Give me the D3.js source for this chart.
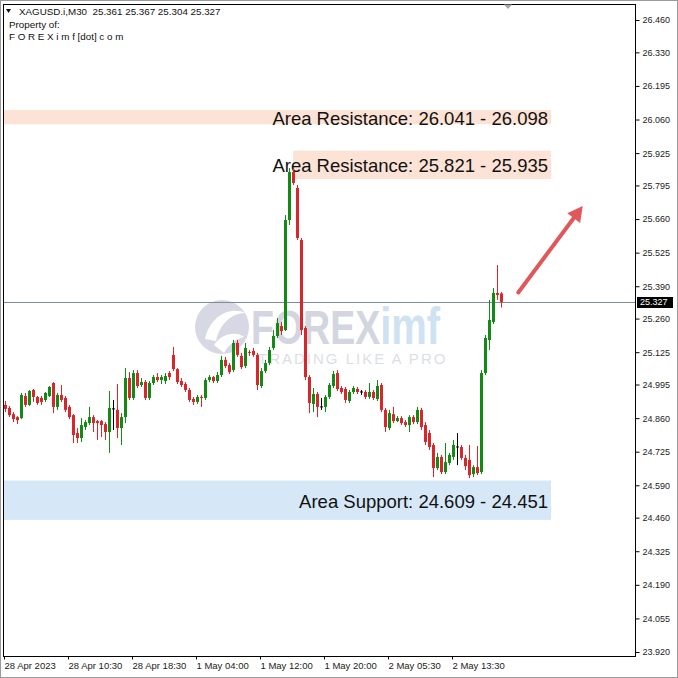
<!DOCTYPE html>
<html><head><meta charset="utf-8">
<script src="https://cdn.jsdelivr.net/npm/d3@7"></script>
<style>html,body{margin:0;padding:0;background:#fff;} svg{display:block;font-family:"Liberation Sans",Arial,sans-serif;}</style>
</head><body><svg id="c" width="678" height="678"></svg>
<script>
// ---------------- DATA ----------------
const symbol = "XAGUSD.i,M30";
const opens = [24.913,24.901,24.876,24.864,24.860,24.949,24.913,24.973,24.945,24.941,
24.933,24.949,25.001,24.905,24.953,24.941,24.905,24.872,24.800,24.780,
24.824,24.840,24.864,24.848,24.848,24.836,24.804,24.897,24.893,24.820,
24.864,25.021,24.941,25.041,24.993,25.005,24.941,25.001,25.025,25.013,
25.009,25.041,25.114,25.057,25.009,24.997,24.973,24.937,24.925,24.945,
24.941,25.013,25.025,25.009,25.033,25.094,25.073,25.053,25.162,25.110,
25.069,25.126,25.130,25.114,24.989,25.049,25.081,25.142,25.190,25.230,
25.214,25.656,25.849,25.785,25.576,25.222,25.025,24.917,24.957,24.905,
24.905,24.945,24.989,25.041,24.981,24.977,24.929,24.965,24.977,24.965,
24.965,24.945,24.965,24.937,24.993,24.893,24.820,24.876,24.848,24.860,
24.844,24.832,24.864,24.844,24.893,24.832,24.800,24.752,24.659,24.704,
24.643,24.680,24.704,24.744,24.744,24.700,24.692,24.635,24.663,24.643,
25.041,25.174,25.246,25.363,25.361];
const highs = [24.929,24.909,24.884,24.868,24.961,24.961,24.973,24.977,24.949,24.949,
24.965,24.989,25.005,24.961,24.993,24.949,24.913,24.876,24.820,24.860,
24.852,24.905,24.872,24.852,24.852,24.844,24.969,24.933,24.997,24.880,
25.061,25.045,25.053,25.053,25.021,25.013,25.009,25.033,25.041,25.033,
25.041,25.049,25.146,25.061,25.021,25.005,24.981,24.945,24.953,24.953,
25.021,25.033,25.029,25.045,25.110,25.106,25.081,25.174,25.174,25.122,
25.162,25.134,25.142,25.122,25.061,25.094,25.146,25.214,25.262,25.246,
25.676,25.865,25.865,25.797,25.584,25.230,25.033,24.981,24.965,24.941,
24.953,25.001,25.049,25.053,24.989,24.985,24.973,24.989,24.985,24.973,
24.973,25.001,24.973,25.013,25.001,24.901,24.893,24.905,24.868,24.868,
24.852,24.872,24.872,24.905,24.901,24.844,24.812,24.760,24.720,24.712,
24.760,24.720,24.772,24.800,24.752,24.712,24.752,24.671,24.748,25.053,
25.194,25.335,25.383,25.475,25.367];
const lows = [24.884,24.864,24.844,24.836,24.856,24.905,24.909,24.925,24.913,24.913,
24.925,24.945,24.880,24.893,24.925,24.884,24.856,24.760,24.760,24.764,
24.812,24.832,24.804,24.772,24.784,24.772,24.720,24.812,24.780,24.752,
24.840,24.933,24.933,24.981,24.985,24.933,24.933,24.993,25.005,24.997,
24.997,25.013,25.049,24.997,24.985,24.965,24.925,24.913,24.917,24.905,
24.933,25.005,25.001,25.001,25.025,25.061,25.037,25.045,25.106,25.057,
25.061,25.110,25.106,24.973,24.981,25.041,25.073,25.134,25.182,25.194,
25.210,25.636,25.797,25.576,25.194,25.013,24.880,24.884,24.864,24.893,
24.884,24.937,24.981,24.969,24.957,24.921,24.921,24.957,24.957,24.953,
24.937,24.937,24.933,24.929,24.884,24.804,24.812,24.840,24.844,24.832,
24.824,24.804,24.836,24.836,24.812,24.752,24.732,24.623,24.651,24.635,
24.635,24.671,24.692,24.671,24.692,24.651,24.619,24.623,24.631,24.635,
25.033,25.134,25.238,25.335,25.304];
const closes = [24.897,24.872,24.856,24.852,24.953,24.913,24.969,24.945,24.921,24.925,
24.961,24.985,24.905,24.953,24.933,24.893,24.864,24.792,24.780,24.832,
24.844,24.864,24.840,24.840,24.832,24.804,24.901,24.897,24.820,24.864,
25.021,24.941,25.041,24.989,25.005,24.941,25.001,25.025,25.013,25.025,
25.029,25.025,25.057,25.005,24.993,24.973,24.933,24.925,24.945,24.941,
25.013,25.025,25.009,25.033,25.094,25.069,25.045,25.162,25.114,25.065,
25.142,25.122,25.114,24.993,25.049,25.081,25.134,25.190,25.242,25.210,
25.656,25.849,25.805,25.584,25.214,25.025,24.921,24.957,24.905,24.905,
24.945,24.993,25.037,24.977,24.965,24.933,24.965,24.981,24.965,24.965,
24.945,24.965,24.941,24.989,24.893,24.824,24.880,24.848,24.860,24.840,
24.832,24.864,24.844,24.893,24.824,24.764,24.744,24.659,24.704,24.643,
24.683,24.712,24.752,24.744,24.700,24.667,24.631,24.663,24.639,25.041,
25.182,25.254,25.363,25.355,25.327];
const timeLabels = ["28 Apr 2023","28 Apr 10:30","28 Apr 18:30","1 May 04:00","1 May 12:00","1 May 20:00","2 May 05:30","2 May 13:30"];
const timeLabelBars = [0,16,32,48,64,80,96,112];
const priceTicks = [26.460,26.330,26.195,26.060,25.925,25.795,25.660,25.525,25.390,25.260,25.125,24.995,24.860,24.725,24.590,24.460,24.325,24.190,24.055,23.920];
const zoneLabels = ["Area Resistance: 26.041 - 26.098","Area Resistance: 25.821 - 25.935","Area Support: 24.609 - 24.451"];
const zoneLow  = [26.041, 25.821, 24.451];
const zoneHigh = [26.098, 25.935, 24.609];
const zoneKind = ["res","res","sup"];
const arrowFrom = {bar:128.2, price:25.365};
const arrowTo   = {bar:144.3, price:25.712};

// ---------------- LAYOUT ----------------
const svg = d3.select("#c");
const L = 3.5, R = 635.5, T = 4.5, B = 656.5;
const x = d3.scaleLinear().domain([0,124]).range([5.5,501.5]);
const y = d3.scaleLinear().domain([23.920,26.460]).range([652,20]);
const GREEN = "#138a13", RED = "#d8262a";

// outer frame
svg.append("rect").attr("x",0.5).attr("y",0.5).attr("width",677).attr("height",677)
  .attr("fill","#fff").attr("stroke","#9a9a9a");

// zones
const zoneStart = [ -0.4, 71.9, -0.4 ];
const zoneEnd = 136.4;
const zg = svg.append("g");
zoneLabels.forEach((lab,k)=>{
  const y1 = y(zoneHigh[k]), y2 = y(zoneLow[k]);
  zg.append("rect").attr("x",x(zoneStart[k])).attr("y",y1)
    .attr("width",x(zoneEnd)-x(zoneStart[k])).attr("height",y2-y1)
    .attr("fill", zoneKind[k]==="res" ? "#fde3d6" : "#d6e8f8");
});

// watermark
const wm = svg.append("g");
wm.append("circle").attr("cx",222).attr("cy",327).attr("r",27).attr("fill","#d6d8e3");
wm.append("path").attr("d","M205,339 C210,316 230,306 246,313 C232,313 220,323 216,341 Z").attr("fill","#fff");
wm.append("path").attr("d","M214,345 C222,333 236,331 244,337 C236,339 228,345 224,353 Z").attr("fill","#fff");
const wt = wm.append("text").attr("transform","translate(251,344) scale(1,1.3)").attr("font-size",37.5).attr("font-weight","bold")
  .attr("font-family","'Liberation Sans',Arial,sans-serif");
wt.append("tspan").attr("fill","#d3d5e0").text("FOREX");
wt.append("tspan").attr("fill","#cfe2f1").attr("font-size",40).text("imf");
wm.append("text").attr("x",258).attr("y",364).attr("font-size",15).attr("letter-spacing",2)
  .attr("fill","#dcdee6").text("TRADING LIKE A PRO");

// zone labels
zoneLabels.forEach((lab,k)=>{
  const yc = (y(zoneHigh[k]) + y(zoneLow[k]))/2 + 1;
  zg.append("text").attr("x",548).attr("y",yc).attr("dy","0.36em")
    .attr("text-anchor","end").attr("font-size",18.5).attr("fill","#111").text(lab);
});

// current price line
const last = closes[closes.length-1];
svg.append("line").attr("x1",L).attr("x2",R).attr("y1",Math.round(y(last))+0.5).attr("y2",Math.round(y(last))+0.5)
  .attr("stroke","#7d8b99").attr("stroke-width",1);

// candles
const data = opens.map((o,i)=>({i,o,h:highs[i],l:lows[i],c:closes[i]}));
const cg = svg.append("g");
data.forEach(d=>{
  const col = d.c>d.o ? GREEN : (d.c<d.o ? RED : "#000");
  const cx = x(d.i);
  cg.append("line").attr("x1",cx).attr("x2",cx).attr("y1",y(d.h)).attr("y2",y(d.l)).attr("stroke",col).attr("stroke-width",1);
  if (d.c===d.o){
    cg.append("line").attr("x1",cx-1.5).attr("x2",cx+1.5).attr("y1",y(d.o)).attr("y2",y(d.o)).attr("stroke",col).attr("stroke-width",1);
  } else {
    const top = y(Math.max(d.o,d.c)), bot = y(Math.min(d.o,d.c));
    cg.append("rect").attr("x",cx-1.5).attr("y",top).attr("width",3).attr("height",Math.max(1,bot-top)).attr("fill",col);
  }
});

// arrow
const ax1 = x(arrowFrom.bar), ay1 = y(arrowFrom.price), ax2 = x(arrowTo.bar), ay2 = y(arrowTo.price);
const ang = Math.atan2(ay2-ay1, ax2-ax1);
const hl = 15, hw = 8;
const bx = ax2 - hl*Math.cos(ang), by = ay2 - hl*Math.sin(ang);
svg.append("line").attr("x1",ax1).attr("y1",ay1).attr("x2",bx+2*Math.cos(ang)).attr("y2",by+2*Math.sin(ang))
  .attr("stroke","#e0585a").attr("stroke-width",4).attr("stroke-linecap","round");
svg.append("polygon").attr("points",[
  [ax2,ay2],
  [bx + hw*Math.sin(ang), by - hw*Math.cos(ang)],
  [bx - hw*Math.sin(ang), by + hw*Math.cos(ang)]
].map(p=>p.join(",")).join(" ")).attr("fill","#e0585a");

// plot border
svg.append("rect").attr("x",L).attr("y",T).attr("width",R-L).attr("height",B-T)
  .attr("fill","none").attr("stroke","#000").attr("stroke-width",1);

// shift marker
svg.append("path").attr("d","M504,4.5 L512,4.5 L508,9 Z").attr("fill","#a6a6a6");

// right axis
const yAxis = d3.axisRight(y).tickValues(priceTicks).tickFormat(d3.format(".3f")).tickSize(4).tickPadding(3);
const ya = svg.append("g").attr("transform",`translate(${R},0)`).call(yAxis);
ya.select(".domain").remove();
ya.selectAll("text").attr("font-size",9).attr("fill","#222").attr("font-family","'Liberation Sans',Arial,sans-serif");
ya.selectAll("line").attr("stroke","#000");

// current price label
const py = Math.round(y(last));
svg.append("rect").attr("x",637).attr("y",py-5).attr("width",36).attr("height",11).attr("fill","#000");
svg.append("text").attr("x",640).attr("y",py).attr("dy","0.35em").attr("font-size",9).attr("fill","#fff").text(d3.format(".3f")(last));

// bottom axis
const xAxis = d3.axisBottom(x).tickValues(timeLabelBars).tickFormat((d,k)=>timeLabels[k]).tickSize(3).tickPadding(3);
const xa = svg.append("g").attr("transform",`translate(0,${B})`).call(xAxis);
xa.select(".domain").remove();
xa.selectAll("text").attr("text-anchor","start").attr("font-size",9.5).attr("fill","#222")
  .attr("font-family","'Liberation Sans',Arial,sans-serif").attr("dx",-1.5);
xa.selectAll("line").attr("stroke","#000").attr("transform","translate(-1.5,0)");

// header
const hd = svg.append("g").attr("font-size",9.8).attr("fill","#111");
hd.append("path").attr("d","M6,9 L11,9 L8.5,13 Z").attr("fill","#111");
hd.append("text").attr("x",19).attr("y",15).attr("xml:space","preserve")
  .text(`${symbol}  ${opens[124].toFixed(3)} ${highs[124].toFixed(3)} ${lows[124].toFixed(3)} ${closes[124].toFixed(3)}`);
hd.append("text").attr("x",9).attr("y",28).text("Property of:");
hd.append("text").attr("x",9).attr("y",40).text("F O R E X i m f [dot] c o m");
</script></body></html>
